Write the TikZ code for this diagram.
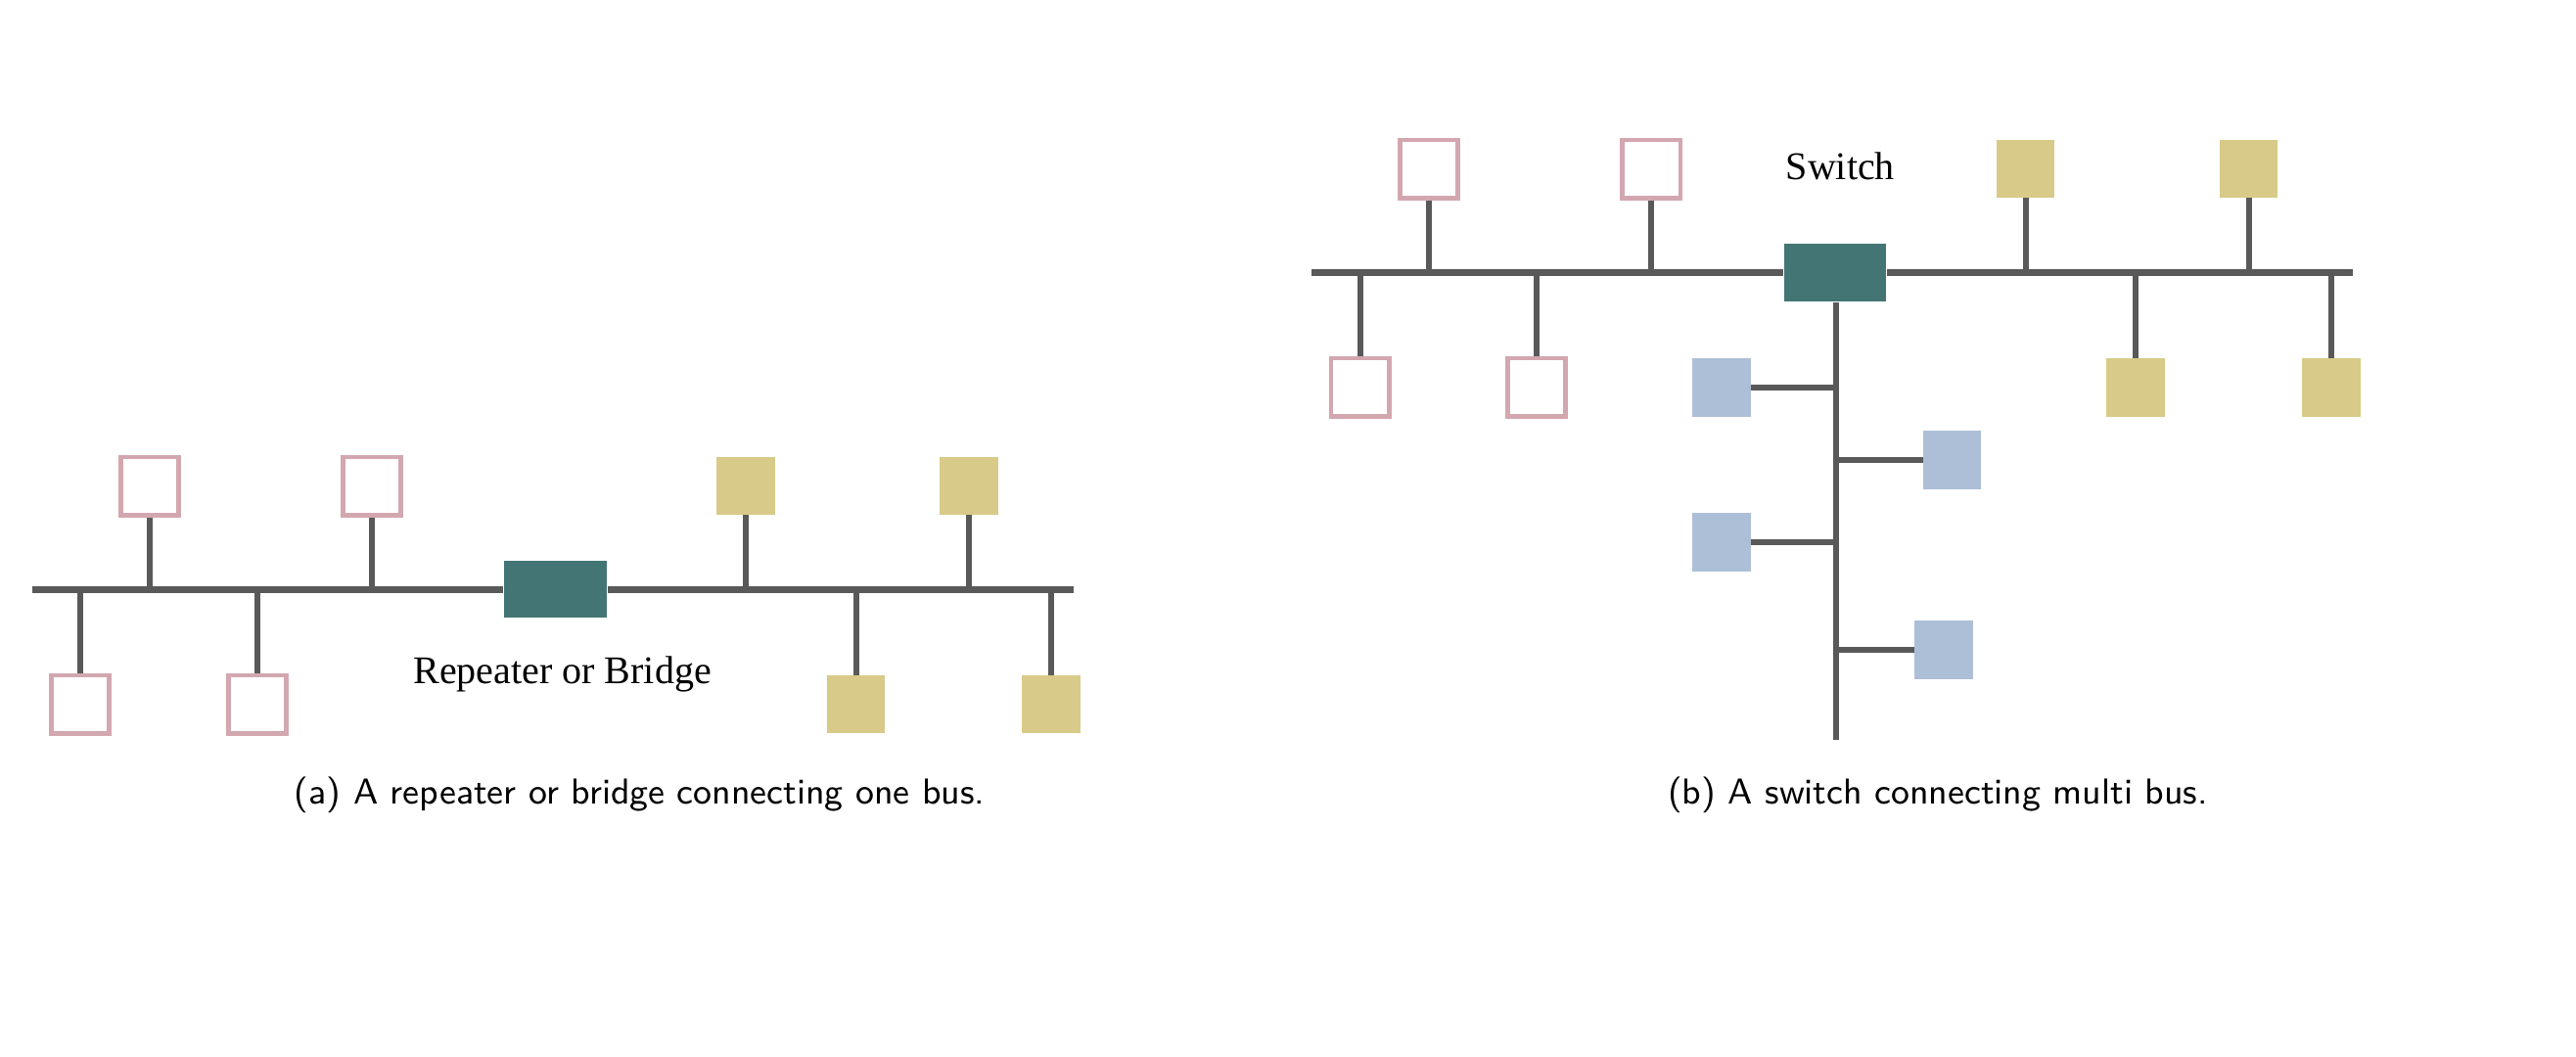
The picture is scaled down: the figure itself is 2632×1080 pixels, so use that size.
\documentclass[tikz,border=0pt]{standalone}
\usepackage{fontspec}
\newfontfamily\labelfont{Liberation Serif}
\definecolor{linegray}{HTML}{595959}
\definecolor{pinkc}{HTML}{D3A7AF}
\definecolor{tealc}{HTML}{437574}
\definecolor{yellowc}{HTML}{D8CA88}
\definecolor{bluec}{HTML}{ADBFD7}
\begin{document}
\begin{tikzpicture}[x=0.25pt,y=-0.25pt,
  wire/.style={draw=linegray,line width=1.5pt},
  busline/.style={draw=linegray,line width=1.7pt},
  pinkbox/.style={draw=pinkc,line width=1.2pt,fill=white,minimum size=14.8pt,inner sep=0pt},
  yellowbox/.style={fill=yellowc,minimum size=14.9pt,inner sep=0pt,outer sep=0pt},
  bluebox/.style={fill=bluec,minimum size=14.9pt,inner sep=0pt,outer sep=0pt},
  tealbox/.style={fill=tealc,minimum width=26.1pt,minimum height=14.5pt,inner sep=0pt,outer sep=0.3pt},
  lbltext/.style={font=\labelfont\fontsize{10}{12}\selectfont,inner sep=0pt,anchor=base west},
  captext/.style={font=\sffamily\fontsize{9.2}{11}\selectfont,inner sep=0pt,anchor=base west}]
\fill[white] (0,0) rectangle (2632,1080);
\useasboundingbox (0,0) rectangle (2632,1080);

% ---------- (a) ----------
\coordinate (aL) at (32.7,602.3);
\coordinate (aR) at (1096.7,602.3);
\node[tealbox] (ateal) at (567.3,602.3) {};
\node[pinkbox] (ap1) at (152.7,496.5) {};
\node[pinkbox] (ap2) at (380,496.5) {};
\node[pinkbox] (ap3) at (82.2,719.5) {};
\node[pinkbox] (ap4) at (262.7,719.5) {};
\node[yellowbox] (ay1) at (762,496.5) {};
\node[yellowbox] (ay2) at (990,496.5) {};
\node[yellowbox] (ay3) at (874.5,719.5) {};
\node[yellowbox] (ay4) at (1074,719.5) {};
\foreach \n in {ap1,ap2,ay1,ay2}{\draw[wire] (\n.south) -- (\n.south |- aL);}
\foreach \n in {ap3,ap4,ay3,ay4}{\draw[wire] (\n.north) -- (\n.north |- aL);}
\draw[busline] (aL) -- (ateal.west);
\draw[busline] (ateal.east) -- (aR);
\node[lbltext] (alabel) at (421.7,698) {Repeater or Bridge};
\node[captext] (acap) at (300,821.7) {(a) A repeater or bridge connecting one bus.};

% ---------- (b) ----------
\coordinate (bL) at (1340,278.5);
\coordinate (bR) at (2404,278.5);
\coordinate (bT) at (1876,756);
\node[tealbox] (bteal) at (1875,278.5) {};
\node[pinkbox] (bp1) at (1460.2,172.7) {};
\node[pinkbox] (bp2) at (1687.3,172.7) {};
\node[pinkbox] (bp3) at (1389.5,395.5) {};
\node[pinkbox] (bp4) at (1570.2,395.5) {};
\node[yellowbox] (by1) at (2069.5,172.7) {};
\node[yellowbox] (by2) at (2297.5,172.7) {};
\node[yellowbox] (by3) at (2182,395.7) {};
\node[yellowbox] (by4) at (2382,395.7) {};
\node[bluebox] (bb1) at (1759,396) {};
\node[bluebox] (bb2) at (1994.4,470) {};
\node[bluebox] (bb3) at (1759,553.7) {};
\node[bluebox] (bb4) at (1985.7,664.2) {};
\foreach \n in {bp1,bp2,by1,by2}{\draw[wire] (\n.south) -- (\n.south |- bL);}
\foreach \n in {bp3,bp4,by3,by4}{\draw[wire] (\n.north) -- (\n.north |- bL);}
\draw[busline] (bL) -- (bteal.west);
\draw[busline] (bteal.east) -- (bR);
\draw[wire] (bteal.south -| bT) -- (bT);
\foreach \n in {bb1,bb3}{\draw[wire] (\n.east) -- (\n.east -| bT);}
\foreach \n in {bb2,bb4}{\draw[wire] (\n.west) -- (\n.west -| bT);}
\node[lbltext] (blabel) at (1824,184) {Switch};
\node[captext] (bcap) at (1703.3,821.7) {(b) A switch connecting multi bus.};
\end{tikzpicture}
\end{document}
